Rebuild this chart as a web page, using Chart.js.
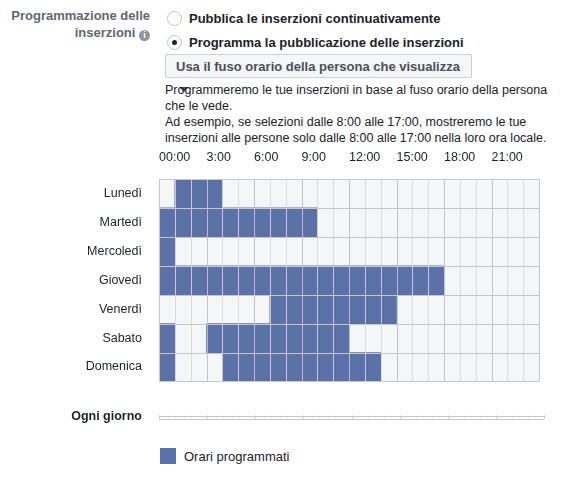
<!DOCTYPE html>
<html><head><meta charset="utf-8">
<script src="https://cdn.jsdelivr.net/npm/chart.js@4"></script>
<style>
body{margin:0;width:585px;height:492px;background:#fff;font-family:"Liberation Sans",Arial,sans-serif;color:#1d2129;position:relative;overflow:hidden}
.abs{position:absolute}
#lbl{right:435px;top:7px;text-align:right;font-size:13px;font-weight:bold;color:#606770;line-height:17px;width:160px}
.info{display:inline-block;width:11px;height:11px;border-radius:50%;background:#90949c;color:#fff;font-size:9px;line-height:11px;text-align:center;vertical-align:-1px}
.radio{width:13px;height:13px;border:1px solid #bec3c9;border-radius:50%;background:#fff}
.opt{font-size:13px;font-weight:bold;color:#1d2129}
#dd{left:165px;top:54px;width:307px;height:24px;background:#f5f6f7;border:1px solid #ccd0d5;border-radius:2px;font-size:13px;font-weight:bold;color:#4b4f56;line-height:23px;padding-left:10px;box-sizing:border-box}
.caret{display:inline-block;width:0;height:0;border-left:5px solid transparent;border-right:5px solid transparent;border-top:5px solid #4b4f56;vertical-align:2px;margin-left:3px}
#para{left:165px;top:82px;font-size:12.5px;line-height:16px;width:420px}
canvas{position:absolute}
</style></head><body>
<div id="lbl" class="abs">Programmazione delle inserzioni <span class="info">i</span></div>
<div class="abs radio" style="left:167px;top:11px"></div>
<div class="abs radio" style="left:167px;top:35px"><div style="width:5px;height:5px;border-radius:50%;background:#1d2129;margin:4px"></div></div>
<div class="abs opt" style="left:189px;top:11px">Pubblica le inserzioni continuativamente</div>
<div class="abs opt" style="left:189px;top:35px">Programma la pubblicazione delle inserzioni</div>
<div id="dd" class="abs">Usa il fuso orario della persona che visualizza<span class="caret"></span></div>
<div id="para" class="abs">Programmeremo le tue inserzioni in base al fuso orario della persona<br>che le vede.<br>Ad esempio, se selezioni dalle 8:00 alle 17:00, mostreremo le tue<br>inserzioni alle persone solo dalle 8:00 alle 17:00 nella loro ora locale.</div>
<canvas id="c1" width="545" height="248" style="left:0;top:150px;width:545px;height:248px"></canvas>
<canvas id="c2" width="545" height="36" style="left:0;top:399px;width:545px;height:36px"></canvas>
<div class="abs" style="left:160px;top:448px;width:16px;height:16px;background:#5b71a7"></div>
<div class="abs" style="left:184px;top:449px;font-size:13px;color:#1d2129">Orari programmati</div>
<script>
const days=["Lunedì","Martedì","Mercoledì","Giovedì","Venerdì","Sabato","Domenica"];
const seg1=[[1,4],[0,10],[0,1],[0,18],[7,15],[0,1],[0,1]];
const seg2=[null,null,null,null,null,[3,12],[4,14]];
const tickLabels=["00:00","3:00","6:00","9:00","12:00","15:00","18:00","21:00"];
const BLUE="#5b71a7";
const bg={id:'bg',beforeDraw(c,a,o){const ca=c.chartArea;c.ctx.save();c.ctx.fillStyle=o.color;c.ctx.fillRect(ca.left,ca.top,ca.right-ca.left,ca.bottom-ca.top);c.ctx.restore();}};
const cells={id:'cells',afterDatasetsDraw(c){const ctx=c.ctx,ca=c.chartArea,xs=c.scales.x,ys=c.scales.y;ctx.save();ctx.lineWidth=1;
 for(let h=0;h<=24;h++){const x=Math.round(xs.getPixelForValue(h))+0.5;ctx.strokeStyle=(h%3===0)?'rgba(190,194,200,0.95)':'rgba(214,217,221,0.85)';if(h===0||h===24)ctx.strokeStyle='rgba(195,198,203,1)';ctx.beginPath();ctx.moveTo(x,ca.top);ctx.lineTo(x,ca.bottom);ctx.stroke();}
 const n=ys.ticks.length;const half=(ys.getPixelForValue(1)-ys.getPixelForValue(0))/2||(ca.bottom-ca.top)/2;
 ctx.strokeStyle='rgba(196,199,204,1)';
 for(let i=0;i<=n;i++){const y=Math.round(n===1?(i===0?ca.top:ca.bottom):ys.getPixelForValue(i)-half)+0.5;ctx.beginPath();ctx.moveTo(ca.left,y);ctx.lineTo(ca.right,y);ctx.stroke();}
 ctx.restore();}};
function yFit(s){s.width=159;}
new Chart(document.getElementById('c1'),{type:'bar',
data:{labels:days,datasets:[
{data:seg1,backgroundColor:BLUE,grouped:false,barPercentage:1,categoryPercentage:1},
{data:seg2,backgroundColor:BLUE,grouped:false,barPercentage:1,categoryPercentage:1}]},
options:{indexAxis:'y',responsive:false,animation:false,
layout:{padding:{right:1,bottom:1}},
plugins:{legend:{display:false},tooltip:{enabled:false},bg:{color:'#f5f6f7'}},
scales:{
x:{type:'linear',position:'top',min:0,max:24,border:{display:false},
 afterFit:s=>{s.height=29},
 ticks:{stepSize:1,autoSkip:false,maxRotation:0,align:'start',padding:6,color:'#1d2129',font:{size:12.5,family:'Liberation Sans'},
  callback:v=>v%3===0&&v<24?tickLabels[v/3]:''},
 grid:{display:false}},
y:{border:{display:false},afterFit:yFit,
 ticks:{color:'#1d2129',padding:9,font:{size:12.5,family:'Liberation Sans'}},
 grid:{display:false}}}},
plugins:[bg,cells]});
new Chart(document.getElementById('c2'),{type:'bar',
data:{labels:["Ogni giorno"],datasets:[{data:[null]}]},
options:{indexAxis:'y',responsive:false,animation:false,
layout:{padding:{top:2,right:1,bottom:2}},
plugins:{legend:{display:false},tooltip:{enabled:false},bg:{color:'#ffffff'}},
scales:{
x:{type:'linear',min:0,max:24,display:true,border:{display:false},afterFit:s=>{s.height=0},
 ticks:{display:false,stepSize:1},grid:{display:false}},
y:{border:{display:false},afterFit:yFit,
 ticks:{color:'#1d2129',padding:9,font:{size:12.5,weight:'bold',family:'Liberation Sans'}},
 grid:{display:false}}}},
plugins:[bg,cells]});
</script></body></html>
